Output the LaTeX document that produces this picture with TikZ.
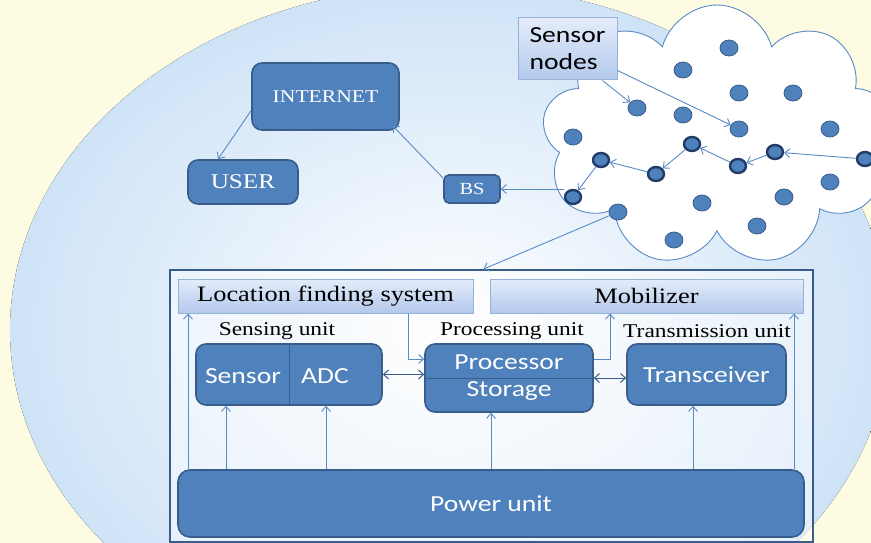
\documentclass[tikz,border=0pt]{standalone}
\usepackage{fontspec}
\setmainfont{Liberation Serif}[FakeStretch=1.2]
\newfontfamily\calibri{Carlito}[FakeStretch=1.2]
\usetikzlibrary{arrows.meta,shapes.geometric,shapes.symbols}
\definecolor{xanh}{HTML}{4F81BD}
\definecolor{vien}{HTML}{385D8A}
\definecolor{dam}{HTML}{1F3D66}
\definecolor{nhat1}{HTML}{E4ECFA}
\definecolor{nhat2}{HTML}{B3C9EC}
\definecolor{viennhat}{HTML}{95B3D7}
\definecolor{duong}{HTML}{5A8AC6}
\definecolor{nen}{HTML}{FDFBE2}
\definecolor{cau}{HTML}{CFE3F7}
\begin{document}
\begin{tikzpicture}[x=1pt,y=-1pt]
	\tikzset{
		every node/.style={inner sep=0pt,align=center},
		% khoi xanh dam
		khoi/.style={draw=vien,fill=xanh,line width=1.6pt,rounded corners=10pt,text=white},
		% khoi xanh nhat
		khoinhat/.style={draw=viennhat,top color=nhat1,bottom color=nhat2,line width=1pt},
		% nut cam bien
		nut/.style={ellipse,draw=vien,fill=xanh,line width=0.8pt,minimum width=18pt,minimum height=16pt},
		nutdam/.style={nut,draw=dam,line width=2.4pt,minimum width=16pt,minimum height=14pt},
		% mui ten
		muiten/.style={draw=duong,line width=0.9pt,-{Straight Barb[length=5pt,width=9pt]}},
		haimui/.style={draw=vien,line width=1pt,{Straight Barb[length=5pt,width=9pt]}-{Straight Barb[length=5pt,width=9pt]}},
	}
	\useasboundingbox (0,0) rectangle (871,543);
	% nen
	\fill[nen] (0,0) rectangle (871,543);
	\fill[inner color=white,outer color=cau] (450,330) ellipse [x radius=440,y radius=345];
	%
	\node[cloud,cloud puffs=9,aspect=1.4,draw=duong,fill=white,line width=0.9pt,minimum width=350pt,minimum height=262pt] (may) at (717,136) {};
	% cac nut
	\foreach \x/\y [count=\i] in {729/48,683/70,739/93,793/93,637/108,683/115,739/129,830/129,573/137,830/182,702/203,618/212,784/197,757/226,674/240}
		\node[nut] (d\i) at (\x,\y) {};
	\foreach \x/\y [count=\i] in {601/160,692/144,656/174,738/166,775/152,865/159,573/197}
		\node[nutdam] (e\i) at (\x,\y) {};
	%
	\node[khoi,minimum width=147pt,minimum height=67pt,font=\fontsize{18}{20}\selectfont] (internet) at (325.5,96.5) {INTERNET};
	\node[khoi,minimum width=110pt,minimum height=44pt,font=\fontsize{21}{24}\selectfont] (user) at (243,182) {USER};
	\node[khoi,minimum width=56pt,minimum height=28pt,rounded corners=5pt,font=\fontsize{17}{20}\selectfont] (bs) at (472,189) {BS};
	\node[khoinhat,minimum width=99pt,minimum height=62pt,align=left,font=\calibri\fontsize{23}{27}\selectfont] (cambien) at (567.5,49) {Sensor\\nodes};
	%
	\foreach \a/\b in {e6/e5,e5/e4,e4/e2,e2/e3,e3/e1,e1/e7}
		\draw[muiten] (\a)--(\b);
	\draw[muiten] (e7.west |- bs.east) -- (bs.east);
	\draw[muiten] ([yshift=-4pt]bs.north west) -- ([xshift=-7pt,yshift=5pt]internet.south east);
	\draw[muiten] ([yshift=-14pt]internet.west) -- ([xshift=-25pt]user.north);
	\draw[muiten] ([xshift=-15pt]cambien.south east) -- (d5);
	\draw[muiten] ([yshift=10pt]cambien.south east) -- (d7);
	% khung nut cam bien
	\node[draw=vien,line width=1.8pt,fill=white,fill opacity=0.45,minimum width=643pt,minimum height=272pt] (khung) at (491.5,406) {};
	\draw[muiten] (d12) -- ([xshift=-8pt]khung.north);
	%
	\node[khoinhat,minimum width=295pt,minimum height=34pt,font=\fontsize{22}{24}\selectfont] (dinhvi) at (325.5,296) {Location finding system};
	\node[khoinhat,minimum width=313pt,minimum height=34pt,font=\fontsize{22}{24}\selectfont] (didong) at (646.5,296) {Mobilizer};
	\node[font=\fontsize{19.5}{22}\selectfont] (lbcb) at (277,331) {Sensing unit};
	\node[font=\fontsize{19.5}{22}\selectfont] (lbxl) at (512,331) {Processing unit};
	\node[font=\fontsize{19.5}{22}\selectfont] (lbtr) at (707,331) {Transmission unit};
	%
	\node[khoi,minimum width=186pt,minimum height=61pt] (camb) at (289,374.5) {};
	\draw[vien,line width=1pt] (camb.north) -- (camb.south);
	\node[text=white,font=\calibri\fontsize{23}{27}\selectfont] (tsensor) at (243,376) {Sensor};
	\node[text=white,font=\calibri\fontsize{23}{27}\selectfont] (tadc) at (325,376) {ADC};
	\node[khoi,minimum width=168pt,minimum height=68pt,font=\calibri\fontsize{23}{27}\selectfont] (xuly) at (509,378) {Processor\\Storage};
	\draw[vien,line width=1pt] (xuly.west) -- (xuly.east);
	\node[khoi,minimum width=159pt,minimum height=61pt,font=\calibri\fontsize{23}{27}\selectfont] (thu) at (706.5,374.5) {Transceiver};
	\node[khoi,minimum width=626pt,minimum height=67pt,rounded corners=12pt,font=\calibri\fontsize{23}{27}\selectfont] (nguon) at (491,503.5) {Power unit};
	%
	\draw[haimui] (camb.east) -- (camb.east -| xuly.west);
	\draw[haimui] (xuly.east) -- (xuly.east -| thu.west);
	\draw[muiten] ([xshift=82.5pt]dinhvi.south) |- ([yshift=19pt]xuly.west);
	\draw[muiten] ([yshift=19pt]xuly.east) -| ([xshift=-36.5pt]didong.south);
	\foreach \dx/\dich in {-265/camb,-165/camb,0/xuly,202/thu,-303/dinhvi,303/didong}
		\draw[muiten] ([xshift=\dx pt]nguon.north) -- ([xshift=\dx pt]nguon.north |- \dich.south);
\end{tikzpicture}
\end{document}
